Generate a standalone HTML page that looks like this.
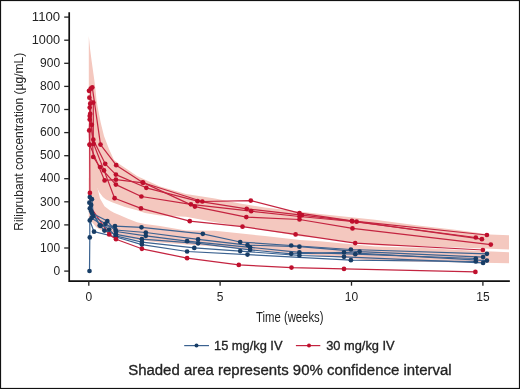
<!DOCTYPE html>
<html><head><meta charset="utf-8"><style>
html,body{margin:0;padding:0;background:#fff;}
body{width:520px;height:389px;overflow:hidden;font-family:"Liberation Sans",sans-serif;}
svg{display:block;filter:blur(0.35px);}
</style></head><body>
<svg width="520" height="389" viewBox="0 0 520 389">
<rect x="0" y="0" width="520" height="389" fill="#fff"/>
<g fill="#f4c8bf" stroke="none">
<polygon points="88.8,36.0 90.2,50.0 91.5,60.0 92.9,70.0 94.3,80.0 95.5,90.0 96.5,100.0 98.2,110.0 100.8,123.0 104.0,136.0 109.0,149.0 114.0,160.0 120.0,164.5 126.0,168.5 137.0,176.0 160.0,186.5 186.0,194.0 215.0,198.5 240.0,203.5 265.0,207.5 290.0,210.5 320.0,214.0 375.0,219.7 420.0,225.7 455.0,229.8 490.0,234.6 509.0,235.3 509.0,249.5 470.0,248.0 420.0,246.3 375.0,245.2 320.0,238.0 300.0,236.3 265.0,230.3 215.0,222.2 186.0,216.8 160.0,215.6 145.0,213.0 137.0,210.3 125.0,207.0 112.0,202.2 106.0,199.5 102.9,197.0 99.5,192.5 97.1,188.0 93.0,193.0 88.8,197.0"/>
<polygon points="88.8,178.0 93.0,183.0 97.6,188.5 100.0,198.5 104.5,206.3 110.0,210.5 114.0,212.8 120.0,215.2 128.0,218.8 137.0,222.3 145.0,224.0 160.0,226.0 186.0,230.5 215.0,230.8 265.0,236.0 300.0,240.0 320.0,241.2 375.0,246.6 420.0,247.7 470.0,250.5 509.0,252.3 509.0,263.2 470.0,262.5 420.0,261.7 375.0,260.8 320.0,255.8 265.0,250.8 215.0,246.5 186.0,244.5 160.0,242.5 138.0,240.0 120.0,236.5 105.0,232.5 96.0,227.0 88.8,218.0"/>
</g>
<polyline points="89.9,192.9 90.6,207.0 109.2,234.4" fill="none" stroke="#c42440" stroke-width="1.2" stroke-linejoin="round"/>
<polyline points="89.8,197.1 91.2,211.2 100.6,225.8 115.0,226.2 141.5,227.3 202.8,233.8 240.2,242.0 291.2,245.5 350.9,249.5 486.9,253.8" fill="none" stroke="#3b6290" stroke-width="1.2" stroke-linejoin="round"/>
<polyline points="91.9,199.2 93.3,216.2 105.4,223.8 115.6,230.0 145.8,232.5 198.1,239.4 247.5,245.1 299.4,246.7 359.6,251.6 483.1,257.1" fill="none" stroke="#3b6290" stroke-width="1.2" stroke-linejoin="round"/>
<polyline points="89.4,202.7 92.2,213.3 107.3,221.0 116.0,231.5 145.8,235.8 187.1,241.2 250.1,247.3 299.4,252.4 355.3,254.2 475.8,258.5" fill="none" stroke="#3b6290" stroke-width="1.2" stroke-linejoin="round"/>
<polyline points="91.2,204.9 91.2,211.2 99.7,225.4 104.4,230.6 116.0,234.4 141.9,239.2 198.1,243.3 250.1,249.8 291.2,253.8 344.0,252.4 486.9,260.6" fill="none" stroke="#3b6290" stroke-width="1.2" stroke-linejoin="round"/>
<polyline points="89.8,208.4 91.5,218.0 109.2,229.6 115.6,235.8 141.9,242.1 194.3,247.9 240.2,251.1 299.4,255.5 344.0,256.8 483.1,262.9" fill="none" stroke="#3b6290" stroke-width="1.2" stroke-linejoin="round"/>
<polyline points="89.5,271.0 89.8,237.4 89.8,220.4 94.0,231.7 116.0,237.0 141.9,244.6 187.1,251.5 247.5,254.6 350.9,260.2 475.8,261.5" fill="none" stroke="#3b6290" stroke-width="1.2" stroke-linejoin="round"/>
<circle cx="89.8" cy="197.1" r="2.35" fill="#173d66"/>
<circle cx="100.6" cy="225.8" r="2.35" fill="#173d66"/>
<circle cx="115.0" cy="226.2" r="2.35" fill="#173d66"/>
<circle cx="141.5" cy="227.3" r="2.35" fill="#173d66"/>
<circle cx="202.8" cy="233.8" r="2.35" fill="#173d66"/>
<circle cx="240.2" cy="242.0" r="2.35" fill="#173d66"/>
<circle cx="291.2" cy="245.5" r="2.35" fill="#173d66"/>
<circle cx="350.9" cy="249.5" r="2.35" fill="#173d66"/>
<circle cx="486.9" cy="253.8" r="2.35" fill="#173d66"/>
<circle cx="91.9" cy="199.2" r="2.35" fill="#173d66"/>
<circle cx="93.3" cy="216.2" r="2.35" fill="#173d66"/>
<circle cx="105.4" cy="223.8" r="2.35" fill="#173d66"/>
<circle cx="115.6" cy="230.0" r="2.35" fill="#173d66"/>
<circle cx="145.8" cy="232.5" r="2.35" fill="#173d66"/>
<circle cx="198.1" cy="239.4" r="2.35" fill="#173d66"/>
<circle cx="247.5" cy="245.1" r="2.35" fill="#173d66"/>
<circle cx="299.4" cy="246.7" r="2.35" fill="#173d66"/>
<circle cx="359.6" cy="251.6" r="2.35" fill="#173d66"/>
<circle cx="483.1" cy="257.1" r="2.35" fill="#173d66"/>
<circle cx="89.4" cy="202.7" r="2.35" fill="#173d66"/>
<circle cx="92.2" cy="213.3" r="2.35" fill="#173d66"/>
<circle cx="107.3" cy="221.0" r="2.35" fill="#173d66"/>
<circle cx="116.0" cy="231.5" r="2.35" fill="#173d66"/>
<circle cx="145.8" cy="235.8" r="2.35" fill="#173d66"/>
<circle cx="187.1" cy="241.2" r="2.35" fill="#173d66"/>
<circle cx="250.1" cy="247.3" r="2.35" fill="#173d66"/>
<circle cx="299.4" cy="252.4" r="2.35" fill="#173d66"/>
<circle cx="355.3" cy="254.2" r="2.35" fill="#173d66"/>
<circle cx="475.8" cy="258.5" r="2.35" fill="#173d66"/>
<circle cx="91.2" cy="204.9" r="2.35" fill="#173d66"/>
<circle cx="91.2" cy="211.2" r="2.35" fill="#173d66"/>
<circle cx="99.7" cy="225.4" r="2.35" fill="#173d66"/>
<circle cx="104.4" cy="230.6" r="2.35" fill="#173d66"/>
<circle cx="116.0" cy="234.4" r="2.35" fill="#173d66"/>
<circle cx="141.9" cy="239.2" r="2.35" fill="#173d66"/>
<circle cx="198.1" cy="243.3" r="2.35" fill="#173d66"/>
<circle cx="250.1" cy="249.8" r="2.35" fill="#173d66"/>
<circle cx="291.2" cy="253.8" r="2.35" fill="#173d66"/>
<circle cx="344.0" cy="252.4" r="2.35" fill="#173d66"/>
<circle cx="486.9" cy="260.6" r="2.35" fill="#173d66"/>
<circle cx="89.8" cy="208.4" r="2.35" fill="#173d66"/>
<circle cx="91.5" cy="218.0" r="2.35" fill="#173d66"/>
<circle cx="109.2" cy="229.6" r="2.35" fill="#173d66"/>
<circle cx="115.6" cy="235.8" r="2.35" fill="#173d66"/>
<circle cx="141.9" cy="242.1" r="2.35" fill="#173d66"/>
<circle cx="194.3" cy="247.9" r="2.35" fill="#173d66"/>
<circle cx="240.2" cy="251.1" r="2.35" fill="#173d66"/>
<circle cx="299.4" cy="255.5" r="2.35" fill="#173d66"/>
<circle cx="344.0" cy="256.8" r="2.35" fill="#173d66"/>
<circle cx="483.1" cy="262.9" r="2.35" fill="#173d66"/>
<circle cx="89.5" cy="271.0" r="2.35" fill="#173d66"/>
<circle cx="89.8" cy="237.4" r="2.35" fill="#173d66"/>
<circle cx="89.8" cy="220.4" r="2.35" fill="#173d66"/>
<circle cx="94.0" cy="231.7" r="2.35" fill="#173d66"/>
<circle cx="116.0" cy="237.0" r="2.35" fill="#173d66"/>
<circle cx="141.9" cy="244.6" r="2.35" fill="#173d66"/>
<circle cx="187.1" cy="251.5" r="2.35" fill="#173d66"/>
<circle cx="247.5" cy="254.6" r="2.35" fill="#173d66"/>
<circle cx="350.9" cy="260.2" r="2.35" fill="#173d66"/>
<circle cx="475.8" cy="261.5" r="2.35" fill="#173d66"/>
<polyline points="89.0,90.8 92.3,87.4 100.5,144.6 116.2,165.2 142.7,182.4 194.9,206.6 246.3,217.1 299.5,219.5 352.5,228.4 490.8,244.6" fill="none" stroke="#c42440" stroke-width="1.2" stroke-linejoin="round"/>
<polyline points="89.4,97.7 93.3,102.6 93.3,139.7 105.2,163.8 115.9,174.6 146.3,187.8 197.6,201.2 246.7,208.8 301.9,215.2 356.6,221.7 481.9,239.2" fill="none" stroke="#c42440" stroke-width="1.2" stroke-linejoin="round"/>
<polyline points="90.7,88.7 89.7,116.0 93.7,144.0 104.0,170.4 114.6,198.2 141.0,208.4 189.8,221.2 242.5,226.7 295.6,234.4 355.2,243.1 482.9,250.0" fill="none" stroke="#c42440" stroke-width="1.2" stroke-linejoin="round"/>
<polyline points="90.2,103.7 91.8,124.8 93.2,157.0 100.0,167.0 115.9,184.6 141.4,196.5 190.9,204.3 251.2,211.2 299.5,216.5 352.3,221.5 475.8,237.5" fill="none" stroke="#c42440" stroke-width="1.2" stroke-linejoin="round"/>
<polyline points="89.7,119.6 89.2,130.4 89.6,144.5 104.6,180.4 115.9,179.7 143.2,182.8 202.3,201.5 250.8,200.6 299.5,213.2 351.9,220.8 486.9,235.0" fill="none" stroke="#c42440" stroke-width="1.2" stroke-linejoin="round"/>
<polyline points="89.7,107.6 90.2,113.9 89.7,144.8 89.9,192.9" fill="none" stroke="#c42440" stroke-width="1.2" stroke-linejoin="round"/>
<polyline points="109.2,234.4 116.0,239.2 141.9,248.8 187.1,258.2 238.8,264.9 291.5,267.6 344.0,268.9 475.4,271.9" fill="none" stroke="#c42440" stroke-width="1.2" stroke-linejoin="round"/>
<circle cx="89.0" cy="90.8" r="2.35" fill="#bf0f2d"/>
<circle cx="92.3" cy="87.4" r="2.35" fill="#bf0f2d"/>
<circle cx="100.5" cy="144.6" r="2.35" fill="#bf0f2d"/>
<circle cx="116.2" cy="165.2" r="2.35" fill="#bf0f2d"/>
<circle cx="142.7" cy="182.4" r="2.35" fill="#bf0f2d"/>
<circle cx="194.9" cy="206.6" r="2.35" fill="#bf0f2d"/>
<circle cx="246.3" cy="217.1" r="2.35" fill="#bf0f2d"/>
<circle cx="299.5" cy="219.5" r="2.35" fill="#bf0f2d"/>
<circle cx="352.5" cy="228.4" r="2.35" fill="#bf0f2d"/>
<circle cx="490.8" cy="244.6" r="2.35" fill="#bf0f2d"/>
<circle cx="89.4" cy="97.7" r="2.35" fill="#bf0f2d"/>
<circle cx="93.3" cy="102.6" r="2.35" fill="#bf0f2d"/>
<circle cx="93.3" cy="139.7" r="2.35" fill="#bf0f2d"/>
<circle cx="105.2" cy="163.8" r="2.35" fill="#bf0f2d"/>
<circle cx="115.9" cy="174.6" r="2.35" fill="#bf0f2d"/>
<circle cx="146.3" cy="187.8" r="2.35" fill="#bf0f2d"/>
<circle cx="197.6" cy="201.2" r="2.35" fill="#bf0f2d"/>
<circle cx="246.7" cy="208.8" r="2.35" fill="#bf0f2d"/>
<circle cx="301.9" cy="215.2" r="2.35" fill="#bf0f2d"/>
<circle cx="356.6" cy="221.7" r="2.35" fill="#bf0f2d"/>
<circle cx="481.9" cy="239.2" r="2.35" fill="#bf0f2d"/>
<circle cx="90.7" cy="88.7" r="2.35" fill="#bf0f2d"/>
<circle cx="89.7" cy="116.0" r="2.35" fill="#bf0f2d"/>
<circle cx="93.7" cy="144.0" r="2.35" fill="#bf0f2d"/>
<circle cx="104.0" cy="170.4" r="2.35" fill="#bf0f2d"/>
<circle cx="114.6" cy="198.2" r="2.35" fill="#bf0f2d"/>
<circle cx="141.0" cy="208.4" r="2.35" fill="#bf0f2d"/>
<circle cx="189.8" cy="221.2" r="2.35" fill="#bf0f2d"/>
<circle cx="242.5" cy="226.7" r="2.35" fill="#bf0f2d"/>
<circle cx="295.6" cy="234.4" r="2.35" fill="#bf0f2d"/>
<circle cx="355.2" cy="243.1" r="2.35" fill="#bf0f2d"/>
<circle cx="482.9" cy="250.0" r="2.35" fill="#bf0f2d"/>
<circle cx="90.2" cy="103.7" r="2.35" fill="#bf0f2d"/>
<circle cx="91.8" cy="124.8" r="2.35" fill="#bf0f2d"/>
<circle cx="93.2" cy="157.0" r="2.35" fill="#bf0f2d"/>
<circle cx="100.0" cy="167.0" r="2.35" fill="#bf0f2d"/>
<circle cx="115.9" cy="184.6" r="2.35" fill="#bf0f2d"/>
<circle cx="141.4" cy="196.5" r="2.35" fill="#bf0f2d"/>
<circle cx="190.9" cy="204.3" r="2.35" fill="#bf0f2d"/>
<circle cx="251.2" cy="211.2" r="2.35" fill="#bf0f2d"/>
<circle cx="299.5" cy="216.5" r="2.35" fill="#bf0f2d"/>
<circle cx="352.3" cy="221.5" r="2.35" fill="#bf0f2d"/>
<circle cx="475.8" cy="237.5" r="2.35" fill="#bf0f2d"/>
<circle cx="89.7" cy="119.6" r="2.35" fill="#bf0f2d"/>
<circle cx="89.2" cy="130.4" r="2.35" fill="#bf0f2d"/>
<circle cx="89.6" cy="144.5" r="2.35" fill="#bf0f2d"/>
<circle cx="104.6" cy="180.4" r="2.35" fill="#bf0f2d"/>
<circle cx="115.9" cy="179.7" r="2.35" fill="#bf0f2d"/>
<circle cx="143.2" cy="182.8" r="2.35" fill="#bf0f2d"/>
<circle cx="202.3" cy="201.5" r="2.35" fill="#bf0f2d"/>
<circle cx="250.8" cy="200.6" r="2.35" fill="#bf0f2d"/>
<circle cx="299.5" cy="213.2" r="2.35" fill="#bf0f2d"/>
<circle cx="351.9" cy="220.8" r="2.35" fill="#bf0f2d"/>
<circle cx="486.9" cy="235.0" r="2.35" fill="#bf0f2d"/>
<circle cx="89.7" cy="107.6" r="2.35" fill="#bf0f2d"/>
<circle cx="90.2" cy="113.9" r="2.35" fill="#bf0f2d"/>
<circle cx="89.7" cy="144.8" r="2.35" fill="#bf0f2d"/>
<circle cx="89.9" cy="192.9" r="2.35" fill="#bf0f2d"/>
<circle cx="109.2" cy="234.4" r="2.35" fill="#bf0f2d"/>
<circle cx="116.0" cy="239.2" r="2.35" fill="#bf0f2d"/>
<circle cx="141.9" cy="248.8" r="2.35" fill="#bf0f2d"/>
<circle cx="187.1" cy="258.2" r="2.35" fill="#bf0f2d"/>
<circle cx="238.8" cy="264.9" r="2.35" fill="#bf0f2d"/>
<circle cx="291.5" cy="267.6" r="2.35" fill="#bf0f2d"/>
<circle cx="344.0" cy="268.9" r="2.35" fill="#bf0f2d"/>
<circle cx="475.4" cy="271.9" r="2.35" fill="#bf0f2d"/>
<g stroke="#111" stroke-width="1.7" fill="none">
<polyline points="69.2,13 69.2,281.1 509,281.1" stroke-linecap="square"/>
</g>
<g fill="#232323" font-family="Liberation Sans, sans-serif">
<line x1="64.2" y1="271.1" x2="69.5" y2="271.1" stroke="#222" stroke-width="1.3"/>
<text x="60.1" y="274.8" text-anchor="end" font-size="12">0</text>
<line x1="64.2" y1="248.0" x2="69.5" y2="248.0" stroke="#222" stroke-width="1.3"/>
<text x="60.1" y="251.7" text-anchor="end" font-size="12">100</text>
<line x1="64.2" y1="224.9" x2="69.5" y2="224.9" stroke="#222" stroke-width="1.3"/>
<text x="60.1" y="228.6" text-anchor="end" font-size="12">200</text>
<line x1="64.2" y1="201.8" x2="69.5" y2="201.8" stroke="#222" stroke-width="1.3"/>
<text x="60.1" y="205.5" text-anchor="end" font-size="12">300</text>
<line x1="64.2" y1="178.7" x2="69.5" y2="178.7" stroke="#222" stroke-width="1.3"/>
<text x="60.1" y="182.4" text-anchor="end" font-size="12">400</text>
<line x1="64.2" y1="155.7" x2="69.5" y2="155.7" stroke="#222" stroke-width="1.3"/>
<text x="60.1" y="159.4" text-anchor="end" font-size="12">500</text>
<line x1="64.2" y1="132.6" x2="69.5" y2="132.6" stroke="#222" stroke-width="1.3"/>
<text x="60.1" y="136.3" text-anchor="end" font-size="12">600</text>
<line x1="64.2" y1="109.5" x2="69.5" y2="109.5" stroke="#222" stroke-width="1.3"/>
<text x="60.1" y="113.2" text-anchor="end" font-size="12">700</text>
<line x1="64.2" y1="86.4" x2="69.5" y2="86.4" stroke="#222" stroke-width="1.3"/>
<text x="60.1" y="90.1" text-anchor="end" font-size="12">800</text>
<line x1="64.2" y1="63.3" x2="69.5" y2="63.3" stroke="#222" stroke-width="1.3"/>
<text x="60.1" y="67.0" text-anchor="end" font-size="12">900</text>
<line x1="64.2" y1="40.2" x2="69.5" y2="40.2" stroke="#222" stroke-width="1.3"/>
<text x="60.1" y="43.9" text-anchor="end" font-size="12" textLength="28.3" lengthAdjust="spacingAndGlyphs">1000</text>
<line x1="64.2" y1="17.1" x2="69.5" y2="17.1" stroke="#222" stroke-width="1.3"/>
<text x="60.1" y="20.8" text-anchor="end" font-size="12" textLength="28.3" lengthAdjust="spacingAndGlyphs">1100</text>
<line x1="88.8" y1="281" x2="88.8" y2="285.7" stroke="#222" stroke-width="1.3"/>
<text x="88.8" y="301" text-anchor="middle" font-size="12">0</text>
<line x1="220.1" y1="281" x2="220.1" y2="285.7" stroke="#222" stroke-width="1.3"/>
<text x="220.1" y="301" text-anchor="middle" font-size="12">5</text>
<line x1="351.5" y1="281" x2="351.5" y2="285.7" stroke="#222" stroke-width="1.3"/>
<text x="351.5" y="301" text-anchor="middle" font-size="12">10</text>
<line x1="482.9" y1="281" x2="482.9" y2="285.7" stroke="#222" stroke-width="1.3"/>
<text x="482.9" y="301" text-anchor="middle" font-size="12">15</text>
<text x="256" y="321.6" font-size="14.3" textLength="67.5" lengthAdjust="spacingAndGlyphs">Time (weeks)</text>
<text transform="translate(22.6,230.8) rotate(-90)" x="0" y="0" font-size="13" textLength="178" lengthAdjust="spacingAndGlyphs">Riliprubant concentration (µg/mL)</text>
<text x="214" y="349.8" stroke="#232323" stroke-width="0.3" font-size="12" textLength="68.5" lengthAdjust="spacingAndGlyphs">15 mg/kg IV</text>
<text x="326.2" y="349.8" stroke="#232323" stroke-width="0.3" font-size="12" textLength="68.5" lengthAdjust="spacingAndGlyphs">30 mg/kg IV</text>
<text x="128.2" y="374.7" stroke="#232323" stroke-width="0.3" font-size="14" textLength="323.5" lengthAdjust="spacingAndGlyphs">Shaded area represents 90% confidence interval</text>
</g>
<line x1="184.2" y1="345.6" x2="209" y2="345.6" stroke="#3b6290" stroke-width="1.2"/>
<circle cx="196.5" cy="345.6" r="2" fill="#173d66"/>
<line x1="295.9" y1="345.6" x2="320.3" y2="345.6" stroke="#c42440" stroke-width="1.2"/>
<circle cx="309" cy="345.6" r="2" fill="#bf0f2d"/>
<rect x="0.5" y="0.5" width="519" height="388" fill="none" stroke="#111" stroke-width="1.2"/>
</svg>
</body></html>
